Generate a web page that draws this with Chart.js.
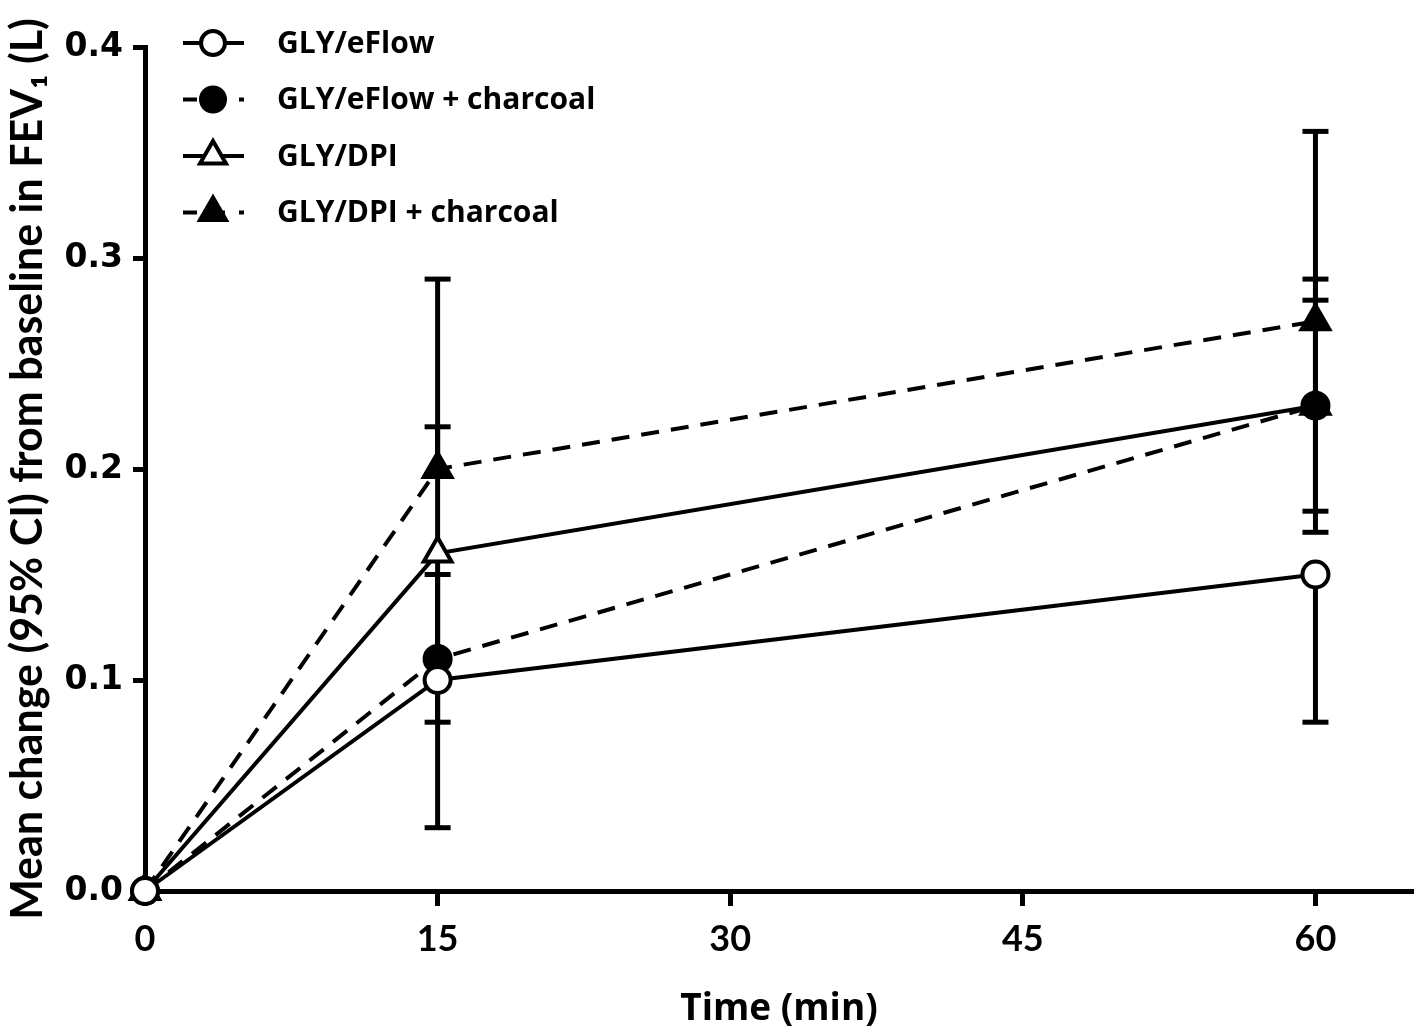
<!DOCTYPE html>
<html>
<head>
<meta charset="utf-8">
<script src="https://cdn.jsdelivr.net/npm/chart.js@4/dist/chart.umd.min.js"></script>
<style>
  html, body { margin: 0; padding: 0; background: #fff; overflow: hidden; }
  canvas { display: block; }
</style>
</head>
<body>
<canvas id="fevChart" width="1418" height="1035"></canvas>
<script>
const times = [0, 15, 60];
const xTicks = [0, 15, 30, 45, 60];
const yTicks = [0.0, 0.1, 0.2, 0.3, 0.4];

const eflow = [0, 0.10, 0.15];
const eflowLow = [0, 0.03, 0.08];
const eflowHigh = [0, 0.10, 0.15];

const eflowChar = [0, 0.11, 0.23];
const eflowCharLow = [0, 0.08, 0.18];
const eflowCharHigh = [0, 0.15, 0.28];

const dpi = [0, 0.16, 0.23];
const dpiLow = [0, 0.10, 0.17];
const dpiHigh = [0, 0.22, 0.29];

const dpiChar = [0, 0.20, 0.27];
const dpiCharLow = [0, 0.20, 0.27];
const dpiCharHigh = [0, 0.29, 0.36];

const toPoints = vals => times.map((t, i) => ({ x: t, y: vals[i] }));

function makeSeries(label, vals, low, high, style, filled, dashed) {
  return {
    label: label,
    data: toPoints(vals),
    low: low,
    high: high,
    borderColor: '#000',
    borderWidth: 4,
    borderDash: dashed ? [18, 12] : [],
    pointStyle: style,
    pointRadius: style === 'triangle' ? 16 : 13,
    pointBorderWidth: 4,
    pointBackgroundColor: filled ? '#000' : '#fff',
    pointBorderColor: '#000',
    tension: 0,
    fill: false,
    clip: false
  };
}

// error bars (95% CI), drawn under lines and markers
const errorBars = {
  id: 'errorBars',
  beforeDatasetsDraw(chart) {
    const ctx = chart.ctx;
    const xs = chart.scales.x, ys = chart.scales.y;
    ctx.save();
    ctx.strokeStyle = '#000';
    ctx.lineWidth = 5;
    ctx.setLineDash([]);
    chart.data.datasets.forEach(ds => {
      ds.data.forEach((p, i) => {
        const lo = ds.low[i], hi = ds.high[i];
        if (lo === hi) return;
        const px = xs.getPixelForValue(p.x);
        const yLo = ys.getPixelForValue(lo), yHi = ys.getPixelForValue(hi);
        ctx.beginPath();
        ctx.moveTo(px, yLo);
        ctx.lineTo(px, yHi);
        ctx.stroke();
        [lo, hi].forEach(v => {
          if (v === p.y) return;
          const py = ys.getPixelForValue(v);
          ctx.beginPath();
          ctx.moveTo(px - 13, py);
          ctx.lineTo(px + 13, py);
          ctx.stroke();
        });
      });
    });
    ctx.restore();
  }
};

// legend with line sample + marker, like the original figure
const sampleLegend = {
  id: 'sampleLegend',
  afterDraw(chart) {
    const ctx = chart.ctx;
    ctx.save();
    chart.data.datasets.forEach((ds, i) => {
      const y = 43 + i * 56.5;
      ctx.strokeStyle = '#000';
      ctx.lineWidth = 4;
      ctx.setLineDash(ds.borderDash.length ? [14, 14] : []);
      ctx.beginPath();
      ctx.moveTo(183, y);
      ctx.lineTo(244, y);
      ctx.stroke();
      ctx.setLineDash([]);
      ctx.fillStyle = ds.pointBackgroundColor;
      Chart.helpers.drawPoint(ctx, {
        pointStyle: ds.pointStyle,
        radius: ds.pointStyle === 'triangle' ? 15 : 12,
        borderWidth: 4,
        rotation: 0
      }, 213, y);
      ctx.fillStyle = '#000';
      ctx.font = 'bold 30px "Open Sans"';
      ctx.textBaseline = 'middle';
      ctx.textAlign = 'left';
      ctx.fillText(ds.label, 277, y + 1);
    });
    ctx.restore();
  }
};

const ctx = document.getElementById('fevChart').getContext('2d');
new Chart(ctx, {
  type: 'line',
  data: {
    datasets: [
      makeSeries('GLY/eFlow', eflow, eflowLow, eflowHigh, 'circle', false, false),
      makeSeries('GLY/eFlow + charcoal', eflowChar, eflowCharLow, eflowCharHigh, 'circle', true, true),
      makeSeries('GLY/DPI', dpi, dpiLow, dpiHigh, 'triangle', false, false),
      makeSeries('GLY/DPI + charcoal', dpiChar, dpiCharLow, dpiCharHigh, 'triangle', true, true)
    ]
  },
  options: {
    responsive: false,
    animation: false,
    layout: { autoPadding: false, padding: { top: 47, right: 5, left: 0, bottom: 0 } },
    plugins: {
      legend: { display: false },
      tooltip: { enabled: false }
    },
    scales: {
      x: {
        type: 'linear',
        min: 0,
        max: 65,
        afterBuildTicks: s => { s.ticks = xTicks.map(v => ({ value: v })); },
        afterFit: s => { s.height = 144; s.paddingLeft = 0; s.paddingRight = 0; },
        border: { display: true, color: '#000', width: 5 },
        grid: { drawOnChartArea: false, drawTicks: true, tickLength: 15, tickWidth: 5, color: '#000' },
        ticks: {
          color: '#000',
          padding: 12,
          maxRotation: 0,
          font: { family: 'Lato', weight: 'bold', size: 36 }
        },
        title: {
          display: true,
          text: 'Time (min)',
          color: '#000',
          padding: { top: 0, bottom: 3 },
          font: { family: 'Open Sans', weight: 'bold', size: 37 }
        }
      },
      y: {
        min: 0,
        max: 0.4,
        afterBuildTicks: s => { s.ticks = yTicks.map(v => ({ value: v })); },
        afterFit: s => { s.width = 145; },
        border: { display: true, color: '#000', width: 5 },
        grid: { drawOnChartArea: false, drawTicks: true, tickLength: 12, tickWidth: 5, color: '#000' },
        ticks: {
          color: '#000',
          padding: 10,
          callback: v => v.toFixed(1),
          font: { family: 'DejaVu Sans', weight: 'bold', size: 33 }
        },
        title: {
          display: true,
          text: 'Mean change (95% CI) from baseline in FEV\u2081 (L)',
          color: '#000',
          padding: { top: 2, bottom: 0 },
          font: { family: 'Lato', weight: 'bold', size: 43 }
        }
      }
    }
  },
  plugins: [errorBars, sampleLegend]
});
</script>
</body>
</html>
